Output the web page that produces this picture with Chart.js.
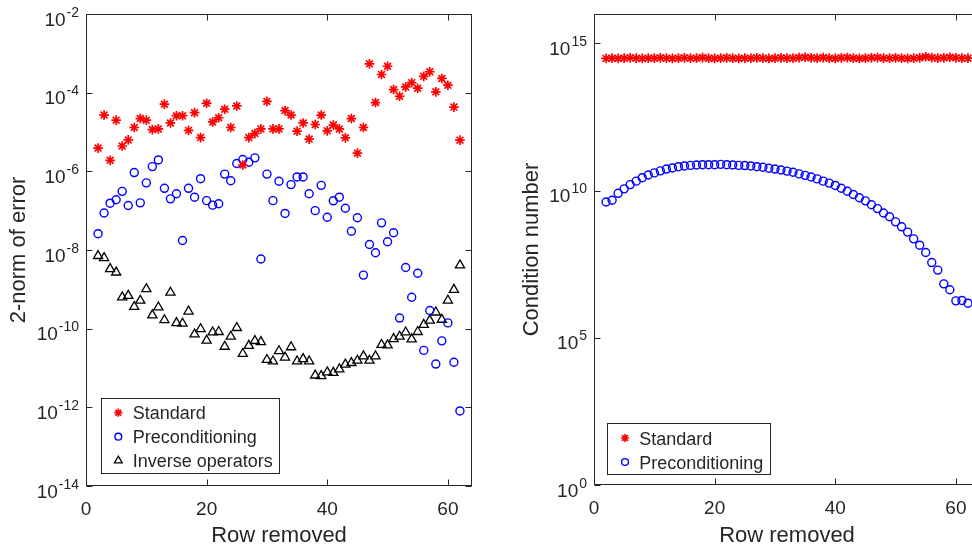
<!DOCTYPE html>
<html>
<head>
<meta charset="utf-8">
<script src="https://cdn.jsdelivr.net/npm/chart.js@4.4.0/dist/chart.umd.min.js"></script>
<style>
    html, body { margin: 0; padding: 0; width: 972px; height: 550px; overflow: hidden; background: #fff; }
    canvas { position: absolute; top: 0; }
    #errChart { left: 0; }
    #condChart { left: 490px; }
</style>
</head>
<body>
<canvas id="errChart" width="490" height="550"></canvas>
<canvas id="condChart" width="500" height="550"></canvas>
<script>
// ===== DATA =====
const rowsRemoved = [2, 3, 4, 5, 6, 7, 8, 9, 10, 11, 12, 13, 14, 15, 16, 17, 18, 19, 20, 21,
    22, 23, 24, 25, 26, 27, 28, 29, 30, 31, 32, 33, 34, 35, 36, 37, 38, 39, 40, 41,
    42, 43, 44, 45, 46, 47, 48, 49, 50, 51, 52, 53, 54, 55, 56, 57, 58, 59, 60, 61, 62];

// 2-norm of error (left panel)
const errStandard = [3.9e-6, 2.7e-5, 1.9e-6, 2.0e-5, 4.4e-6, 6.3e-6, 1.3e-5, 2.2e-5, 2.0e-5, 1.15e-5,
    1.2e-5, 5.1e-5, 1.7e-5, 2.6e-5, 2.6e-5, 1.1e-5, 3.1e-5, 7.2e-6, 5.4e-5, 1.8e-5,
    2.3e-5, 3.8e-5, 1.3e-5, 4.6e-5, 1.45e-6, 7.2e-6, 9.1e-6, 1.2e-5, 6.0e-5, 1.2e-5,
    1.2e-5, 3.5e-5, 2.7e-5, 1.05e-5, 1.7e-5, 6.6e-6, 1.55e-5, 2.7e-5, 1.07e-5, 1.5e-5,
    1.2e-5, 7.1e-6, 2.2e-5, 2.9e-6, 1.3e-5, 5.4e-4, 5.6e-5, 2.9e-4, 4.7e-4, 1.2e-4,
    8.1e-5, 1.4e-4, 1.8e-4, 1.3e-4, 2.6e-4, 3.4e-4, 1.05e-4, 2.3e-4, 1.55e-4, 4.3e-5, 6.2e-6];
const errPrecond = [2.6e-8, 8.7e-8, 1.55e-7, 1.9e-7, 3.1e-7, 1.35e-7, 9.3e-7, 1.58e-7, 5.1e-7, 1.32e-6,
    1.95e-6, 3.7e-7, 2.0e-7, 2.7e-7, 1.74e-8, 3.7e-7, 2.2e-7, 6.5e-7, 1.8e-7, 1.38e-7,
    1.5e-7, 8.5e-7, 5.75e-7, 1.58e-6, 2.0e-6, 1.7e-6, 2.2e-6, 5.9e-9, 8.5e-7, 1.8e-7,
    5.6e-7, 8.5e-8, 4.6e-7, 7.2e-7, 7.2e-7, 2.7e-7, 1.0e-7, 4.4e-7, 6.8e-8, 1.78e-7,
    2.2e-7, 1.15e-7, 3.0e-8, 6.6e-8, 2.3e-9, 1.38e-8, 8.5e-9, 4.9e-8, 1.62e-8, 2.75e-8,
    1.86e-10, 3.6e-9, 6.3e-10, 2.57e-9, 2.8e-11, 2.9e-10, 1.26e-11, 4.9e-11, 1.4e-10, 1.4e-11, 8.1e-13];
const errInverse = [7.1e-9, 6.3e-9, 3.3e-9, 2.7e-9, 6.3e-10, 6.9e-10, 3.6e-10, 5.2e-10, 1.02e-9, 2.2e-10,
    3.5e-10, 1.66e-10, 8.3e-10, 1.4e-10, 1.35e-10, 2.75e-10, 7.2e-11, 9.8e-11, 5.0e-11, 8.1e-11,
    8.3e-11, 3.5e-11, 6.3e-11, 1.05e-10, 2.3e-11, 3.7e-11, 4.9e-11, 4.6e-11, 1.62e-11, 1.48e-11,
    2.7e-11, 1.86e-11, 3.4e-11, 1.48e-11, 1.7e-11, 1.48e-11, 6.5e-12, 6.3e-12, 7.8e-12, 7.6e-12,
    9.3e-12, 1.23e-11, 1.35e-11, 1.55e-11, 2.0e-11, 1.55e-11, 2.0e-11, 3.9e-11, 3.8e-11, 5.5e-11,
    6.3e-11, 8.1e-11, 5.4e-11, 8.3e-11, 1.26e-10, 1.62e-10, 2.6e-10, 1.7e-10, 5.2e-10, 9.8e-10, 4.1e-9];

// Condition number (right panel)
const condStandard = [3.1e14, 3.16e14, 3.1e14, 3.16e14, 3.24e14, 3.16e14, 3.1e14, 3.16e14, 3.16e14, 3.24e14,
    3.16e14, 3.1e14, 3.16e14, 3.24e14, 3.16e14, 3.16e14, 3.3e14, 3.16e14, 3.1e14, 3.16e14,
    3.24e14, 3.16e14, 3.1e14, 3.16e14, 3.16e14, 3.24e14, 3.16e14, 3.1e14, 3.16e14, 3.24e14,
    3.16e14, 3.16e14, 3.3e14, 3.4e14, 3.24e14, 3.16e14, 3.3e14, 3.16e14, 3.1e14, 3.24e14,
    3.3e14, 3.16e14, 3.1e14, 3.16e14, 3.24e14, 3.3e14, 3.16e14, 3.16e14, 3.24e14, 3.16e14,
    3.1e14, 3.16e14, 3.24e14, 3.55e14, 3.3e14, 3.16e14, 3.24e14, 3.4e14, 3.24e14, 3.16e14, 3.16e14];
const condPrecond = [4.1e9, 4.7e9, 8.1e9, 1.15e10, 1.6e10, 2.1e10, 2.75e10, 3.4e10, 4.0e10, 4.7e10,
    5.4e10, 5.9e10, 6.5e10, 6.9e10, 7.2e10, 7.4e10, 7.6e10, 7.6e10, 7.6e10, 7.8e10,
    7.6e10, 7.4e10, 7.2e10, 7.1e10, 6.9e10, 6.5e10, 6.2e10, 5.75e10, 5.4e10, 5.0e10,
    4.6e10, 4.2e10, 3.7e10, 3.3e10, 2.9e10, 2.5e10, 2.1e10, 1.8e10, 1.5e10, 1.2e10,
    9.5e9, 7.4e9, 5.75e9, 4.5e9, 3.3e9, 2.45e9, 1.74e9, 1.3e9, 8.7e8, 5.9e8,
    3.9e8, 2.3e8, 1.4e8, 7.9e7, 3.6e7, 2.0e7, 6.8e6, 4.3e6, 1.8e6, 1.86e6, 1.5e6];

const xTicks = [0, 20, 40, 60];
const errTicks = [1e-14, 1e-12, 1e-10, 1e-8, 1e-6, 1e-4, 1e-2];
const condTicks = [1, 1e5, 1e10, 1e15];
const seriesNames = ['Standard', 'Preconditioning', 'Inverse operators'];
const xTitle = 'Row removed';
const errTitle = '2-norm of error';
const condTitle = 'Condition number';

// ===== STYLES =====
const FONT = '"Liberation Sans", Arial, Helvetica, sans-serif';
const AXIS_COLOR = '#262626';

const markStandard = { pointStyle: 'star', radius: 4.8, color: '#ff0000', width: 1.7 };
const markPrecond = { pointStyle: 'circle', radius: 4, color: '#0000ff', width: 1.4 };
const markInverse = { pointStyle: 'triangle', radius: 5.3, color: '#000000', width: 1.3 };

function toPoints(values) {
    return values.map((v, i) => ({ x: rowsRemoved[i], y: v }));
}

function dataset(label, values, mark) {
    return {
        label: label,
        data: toPoints(values),
        showLine: false,
        pointStyle: mark.pointStyle,
        pointRadius: mark.radius,
        pointHoverRadius: mark.radius,
        pointBorderColor: mark.color,
        pointBackgroundColor: 'rgba(0,0,0,0)',
        pointBorderWidth: mark.width
    };
}

// ===== MATLAB-STYLE AXES PLUGIN =====
function drawPow10(ctx, value, xRight, yTick) {
    const exp = Math.round(Math.log10(value));
    const base = '10';
    const sup = String(exp);
    ctx.font = '19px ' + FONT;
    const wb = ctx.measureText(base).width;
    ctx.font = '14px ' + FONT;
    const ws = ctx.measureText(sup).width;
    const x0 = xRight - ws - wb - 1;
    ctx.textAlign = 'left';
    ctx.textBaseline = 'alphabetic';
    ctx.font = '19px ' + FONT;
    ctx.fillText(base, x0, yTick + 11.5);
    ctx.font = '14px ' + FONT;
    ctx.fillText(sup, x0 + wb + 1, yTick + 2.5);
}

function drawMarker(ctx, mark, x, y) {
    ctx.save();
    ctx.strokeStyle = mark.color;
    ctx.fillStyle = 'rgba(0,0,0,0)';
    ctx.lineWidth = mark.width;
    Chart.helpers.drawPoint(ctx, { pointStyle: mark.pointStyle, radius: mark.radius * 0.85, borderWidth: mark.width, rotation: 0 }, x, y);
    ctx.restore();
}

function matlabAxes(cfg) {
    return {
        id: 'matlabAxes',
        afterDatasetsDraw(chart) {
            const ctx = chart.ctx;
            const a = chart.chartArea;
            const xs = chart.scales.x;
            const ys = chart.scales.y;
            const L = Math.round(a.left) + 0.5, R = Math.round(a.right) - 0.5;
            const T = Math.round(a.top) + 0.5, B = Math.round(a.bottom) - 0.5;
            const tick = 6;

            ctx.save();
            ctx.strokeStyle = AXIS_COLOR;
            ctx.fillStyle = AXIS_COLOR;
            ctx.lineWidth = 1;

            // frame
            ctx.strokeRect(L, T, R - L, B - T);

            // inward ticks
            ctx.beginPath();
            xs.ticks.forEach(t => {
                const px = Math.round(xs.getPixelForValue(t.value)) + 0.5;
                ctx.moveTo(px, B); ctx.lineTo(px, B - tick);
                ctx.moveTo(px, T); ctx.lineTo(px, T + tick);
            });
            ys.ticks.forEach(t => {
                const py = Math.round(ys.getPixelForValue(t.value)) + 0.5;
                ctx.moveTo(L, py); ctx.lineTo(L + tick, py);
                ctx.moveTo(R, py); ctx.lineTo(R - tick, py);
            });
            ctx.stroke();

            // x tick labels
            ctx.font = '19px ' + FONT;
            ctx.textAlign = 'center';
            ctx.textBaseline = 'alphabetic';
            xs.ticks.forEach(t => {
                ctx.fillText(String(t.value), xs.getPixelForValue(t.value), a.bottom + 28.5);
            });

            // y tick labels (10 with superscript exponent)
            ys.ticks.forEach(t => {
                drawPow10(ctx, t.value, a.left - 7, ys.getPixelForValue(t.value));
            });

            // axis titles
            ctx.font = '22px ' + FONT;
            ctx.textAlign = 'center';
            ctx.fillText(xTitle, (a.left + a.right) / 2, 542);
            ctx.save();
            ctx.translate(cfg.yTitleX, (a.top + a.bottom) / 2);
            ctx.rotate(-Math.PI / 2);
            ctx.fillText(cfg.yTitle, 0, 0);
            ctx.restore();

            // legend
            const lg = cfg.legend;
            ctx.fillStyle = '#ffffff';
            ctx.fillRect(lg.x1, lg.y1, lg.x2 - lg.x1, lg.y2 - lg.y1);
            ctx.strokeStyle = AXIS_COLOR;
            ctx.strokeRect(lg.x1, lg.y1, lg.x2 - lg.x1, lg.y2 - lg.y1);
            ctx.font = '18px ' + FONT;
            ctx.textAlign = 'left';
            lg.rows.forEach((row, i) => {
                drawMarker(ctx, row.mark, lg.markerX, row.cy);
                ctx.fillStyle = AXIS_COLOR;
                ctx.fillText(cfg.names[i], lg.textX, row.cy + 6.6);
            });
            ctx.restore();
        }
    };
}

function baseOptions(yMin, yMax, yTicks, xMax, yWidth, xHeight, padRight) {
    return {
        responsive: false,
        animation: false,
        events: [],
        layout: { padding: { top: 14, right: padRight, left: 0, bottom: 0 } },
        plugins: { legend: { display: false }, tooltip: { enabled: false } },
        scales: {
            x: {
                type: 'linear', min: 0, max: xMax,
                grid: { display: false, drawTicks: false },
                border: { display: false },
                ticks: { display: false },
                afterBuildTicks: s => { s.ticks = xTicks.map(v => ({ value: v })); },
                afterFit: s => { s.height = xHeight; }
            },
            y: {
                type: 'logarithmic', min: yMin, max: yMax,
                grid: { display: false, drawTicks: false },
                border: { display: false },
                ticks: { display: false },
                afterBuildTicks: s => { s.ticks = yTicks.map(v => ({ value: v })); },
                afterFit: s => { s.width = yWidth; }
            }
        }
    };
}

// ===== LEFT: 2-norm of error =====
new Chart(document.getElementById('errChart'), {
    type: 'scatter',
    data: {
        datasets: [
            dataset(seriesNames[0], errStandard, markStandard),
            dataset(seriesNames[1], errPrecond, markPrecond),
            dataset(seriesNames[2], errInverse, markInverse)
        ]
    },
    options: baseOptions(1e-14, 1e-2, errTicks, 64, 86, 64, 18),
    plugins: [matlabAxes({
        yTitle: errTitle,
        yTitleX: 25,
        names: seriesNames,
        legend: {
            x1: 101.5, y1: 398.5, x2: 279.5, y2: 473.5,
            markerX: 118.3, textX: 132.7,
            rows: [
                { mark: markStandard, cy: 412.7 },
                { mark: markPrecond, cy: 436.7 },
                { mark: markInverse, cy: 460.7 }
            ]
        }
    })]
});

// ===== RIGHT: condition number =====
new Chart(document.getElementById('condChart'), {
    type: 'scatter',
    data: {
        datasets: [
            dataset(seriesNames[0], condStandard, markStandard),
            dataset(seriesNames[1], condPrecond, markPrecond)
        ]
    },
    options: baseOptions(1, 1e16, condTicks, 64, 104, 65, 10),
    plugins: [matlabAxes({
        yTitle: condTitle,
        yTitleX: 48,
        names: seriesNames.slice(0, 2),
        legend: {
            x1: 117.5, y1: 423.5, x2: 280.5, y2: 474.5,
            markerX: 135, textX: 149.3,
            rows: [
                { mark: markStandard, cy: 438 },
                { mark: markPrecond, cy: 462 }
            ]
        }
    })]
});
</script>
</body>
</html>
